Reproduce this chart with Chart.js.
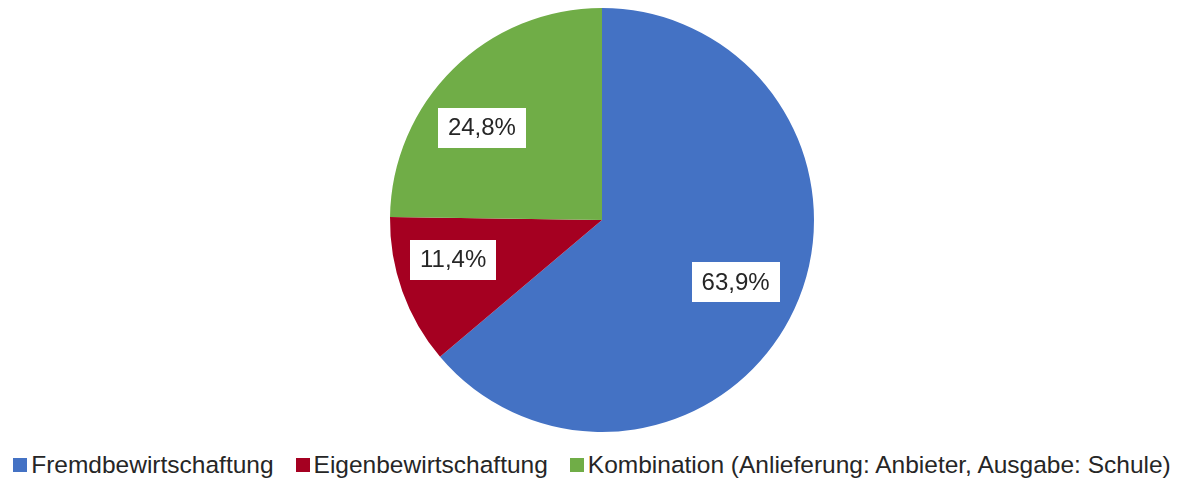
<!DOCTYPE html>
<html><head><meta charset="utf-8">
<script src="https://cdn.jsdelivr.net/npm/chart.js@4/dist/chart.umd.min.js"></script>
<style>
html,body{margin:0;padding:0;background:#fff;width:1190px;height:481px;overflow:hidden;font-family:"Liberation Sans",Arial,sans-serif;}
#wrap{position:absolute;left:0;top:0;width:1190px;height:440px;}
#legend{position:absolute;left:0;top:451px;width:1184px;height:28px;display:flex;justify-content:center;align-items:center;font-size:24.5px;color:#262626;}
.item{display:flex;align-items:center;margin:0 11px;white-space:nowrap;}
.sw{width:14px;height:14px;margin-right:4px;display:inline-block;}
</style></head>
<body>
<div id="wrap"><canvas id="c" width="1190" height="440"></canvas></div>
<div id="legend"></div>
<script>
const categories = ["Fremdbewirtschaftung","Eigenbewirtschaftung","Kombination (Anlieferung: Anbieter, Ausgabe: Schule)"];
const values = [63.9, 11.4, 24.8];
const valueLabels = ["63,9%","11,4%","24,8%"];
const colors = ["#4472C4","#A50021","#70AD47"];

// label placement (layout only): angle shift in degrees and radius fraction per slice
const labelAngleShift = [0, 4.7, -7.9];
const labelRadiusFrac = [0.695, 0.727, 0.714];

const labelPlugin = {
  id:'boxLabels',
  afterDatasetsDraw(chart){
    const ctx = chart.ctx;
    const meta = chart.getDatasetMeta(0);
    ctx.save();
    ctx.font = '24px "Liberation Sans", Arial, sans-serif';
    ctx.textAlign='center'; ctx.textBaseline='middle';
    meta.data.forEach((arc,i)=>{
      const p = arc.getProps(['x','y','startAngle','endAngle','outerRadius'],true);
      const mid = (p.startAngle+p.endAngle)/2 + labelAngleShift[i]*Math.PI/180;
      const r = p.outerRadius*labelRadiusFrac[i];
      const x = p.x + Math.cos(mid)*r, y = p.y + Math.sin(mid)*r;
      const t = valueLabels[i];
      const w = ctx.measureText(t).width + 20, h = 40;
      ctx.fillStyle='#fff';
      ctx.fillRect(Math.round(x-w/2), Math.round(y-h/2), Math.round(w), h);
      ctx.fillStyle='#262626';
      ctx.fillText(t, x, y+1);
    });
    ctx.restore();
  }
};

new Chart(document.getElementById('c'),{
  type:'pie',
  data:{labels:categories,datasets:[{data:values,backgroundColor:colors,borderWidth:0}]},
  options:{
    responsive:false,animation:false,
    layout:{padding:{top:8,bottom:8,left:14,right:0}},
    plugins:{legend:{display:false},tooltip:{enabled:false}}
  },
  plugins:[labelPlugin]
});

const lg = document.getElementById('legend');
categories.forEach((c,i)=>{
  const it=document.createElement('span'); it.className='item';
  const sw=document.createElement('span'); sw.className='sw'; sw.style.background=colors[i];
  const tx=document.createElement('span'); tx.textContent=c;
  it.appendChild(sw); it.appendChild(tx); lg.appendChild(it);
});
</script>
</body></html>
